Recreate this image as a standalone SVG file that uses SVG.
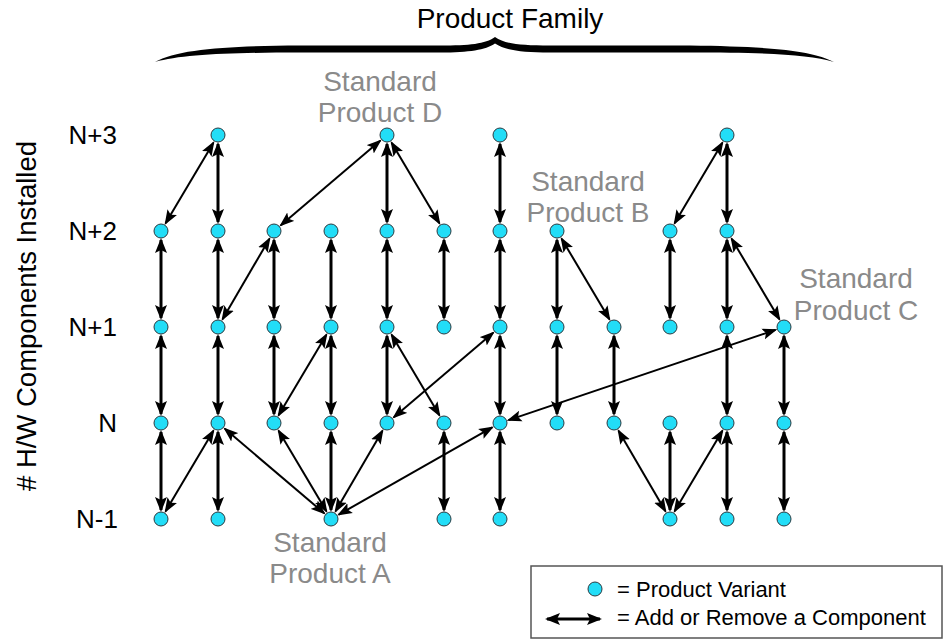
<svg xmlns="http://www.w3.org/2000/svg" width="948" height="644" viewBox="0 0 948 644">
<style>
text{font-family:"Liberation Sans",Arial,sans-serif}
.lvl{font-size:26px;fill:#000;text-anchor:end}
.std{font-size:28px;fill:#8a8a8a;text-anchor:middle}
.v{stroke:#000;stroke-width:3;fill:none;marker-start:url(#ah);marker-end:url(#ah)}
.d{stroke:#000;stroke-width:2;fill:none;marker-start:url(#ah2);marker-end:url(#ah2)}
.n{fill:#22DDF7;stroke:#2b3a40;stroke-width:1}
</style>
<defs>
<marker id="ah" markerUnits="userSpaceOnUse" viewBox="0 0 15 12" markerWidth="15" markerHeight="12" refX="13" refY="6" orient="auto-start-reverse">
<path d="M0,0 L15,6 L0,12 L3,6 Z" fill="#000"/>
</marker>
<marker id="ah2" markerUnits="userSpaceOnUse" viewBox="0 0 15 12" markerWidth="15" markerHeight="12" refX="13" refY="6" orient="auto-start-reverse">
<path d="M0,0.5 L15,6 L0,11.5 L3,6 Z" fill="#000"/>
</marker>
</defs>
<rect width="948" height="644" fill="#fff"/>

<g id="title">
<text x="510" y="28" font-size="28" text-anchor="middle">Product Family</text>
<path d="M155,62 C178,49 230,46 300,45.5 L440,45.5 C470,45.5 485,44 495,37 C505,44 520,45.5 550,45.5 L690,45.5 C765,46.5 812,50 834,62 C808,54.5 765,52.5 690,52.5 L550,52.5 C520,52.5 505,50 495,43.5 C485,50 470,52.5 440,52.5 L300,52.5 C230,52.5 182,54.5 155,62 Z" fill="#000"/>
</g>

<g id="axis">
<text transform="translate(36,316) rotate(-90)" font-size="27.5" text-anchor="middle"># H/W Components Installed</text>
<text class="lvl" x="117" y="144">N+3</text>
<text class="lvl" x="117" y="240">N+2</text>
<text class="lvl" x="117" y="336">N+1</text>
<text class="lvl" x="117" y="432">N</text>
<text class="lvl" x="118" y="528">N-1</text>
</g>

<g id="labels">
<g id="stdD"><text class="std" x="380" y="91">Standard</text><text class="std" x="380" y="122">Product D</text></g>
<g id="stdB"><text class="std" x="588" y="191">Standard</text><text class="std" x="588" y="222">Product B</text></g>
<g id="stdC"><text class="std" x="856" y="288">Standard</text><text class="std" x="856" y="320">Product C</text></g>
<g id="stdA"><text class="std" x="330" y="552">Standard</text><text class="std" x="330" y="583">Product A</text></g>
</g>

<g id="connectors">
<line class="v" x1="161" y1="240" x2="161" y2="318"/>
<line class="v" x1="161" y1="336" x2="161" y2="414"/>
<line class="v" x1="161" y1="432" x2="161" y2="510"/>
<line class="v" x1="218" y1="144" x2="218" y2="222"/>
<line class="v" x1="218" y1="240" x2="218" y2="318"/>
<line class="v" x1="218" y1="336" x2="218" y2="414"/>
<line class="v" x1="218" y1="432" x2="218" y2="510"/>
<line class="v" x1="274" y1="240" x2="274" y2="318"/>
<line class="v" x1="274" y1="336" x2="274" y2="414"/>
<line class="v" x1="331" y1="240" x2="331" y2="318"/>
<line class="v" x1="331" y1="336" x2="331" y2="414"/>
<line class="v" x1="331" y1="432" x2="331" y2="510"/>
<line class="v" x1="387" y1="144" x2="387" y2="222"/>
<line class="v" x1="387" y1="240" x2="387" y2="318"/>
<line class="v" x1="387" y1="336" x2="387" y2="414"/>
<line class="v" x1="444" y1="240" x2="444" y2="318"/>
<line class="v" x1="444" y1="432" x2="444" y2="510"/>
<line class="v" x1="500" y1="144" x2="500" y2="222"/>
<line class="v" x1="500" y1="240" x2="500" y2="318"/>
<line class="v" x1="500" y1="336" x2="500" y2="414"/>
<line class="v" x1="500" y1="432" x2="500" y2="510"/>
<line class="v" x1="557" y1="240" x2="557" y2="318"/>
<line class="v" x1="557" y1="336" x2="557" y2="414"/>
<line class="v" x1="614" y1="336" x2="614" y2="414"/>
<line class="v" x1="670" y1="240" x2="670" y2="318"/>
<line class="v" x1="670" y1="432" x2="670" y2="510"/>
<line class="v" x1="727" y1="144" x2="727" y2="222"/>
<line class="v" x1="727" y1="240" x2="727" y2="318"/>
<line class="v" x1="727" y1="336" x2="727" y2="414"/>
<line class="v" x1="727" y1="432" x2="727" y2="510"/>
<line class="v" x1="784" y1="336" x2="784" y2="414"/>
<line class="v" x1="784" y1="432" x2="784" y2="510"/>
<line class="d" x1="213.41" y1="142.74" x2="165.59" y2="223.26"/>
<line class="d" x1="380.14" y1="140.83" x2="280.86" y2="225.17"/>
<line class="d" x1="391.59" y1="142.74" x2="439.41" y2="223.26"/>
<line class="d" x1="269.47" y1="238.77" x2="222.53" y2="319.23"/>
<line class="d" x1="722.41" y1="142.74" x2="674.59" y2="223.26"/>
<line class="d" x1="561.59" y1="238.74" x2="609.41" y2="319.26"/>
<line class="d" x1="731.59" y1="238.74" x2="779.41" y2="319.26"/>
<line class="d" x1="326.41" y1="334.74" x2="278.59" y2="415.26"/>
<line class="d" x1="391.59" y1="334.74" x2="439.41" y2="415.26"/>
<line class="d" x1="493.14" y1="332.83" x2="393.86" y2="417.17"/>
<line class="d" x1="775.47" y1="329.88" x2="508.53" y2="420.12"/>
<line class="d" x1="213.41" y1="430.74" x2="165.59" y2="511.26"/>
<line class="d" x1="324.14" y1="513.17" x2="224.86" y2="428.83"/>
<line class="d" x1="326.41" y1="511.26" x2="278.59" y2="430.74"/>
<line class="d" x1="335.53" y1="511.23" x2="382.47" y2="430.77"/>
<line class="d" x1="338.83" y1="514.55" x2="492.17" y2="427.45"/>
<line class="d" x1="665.47" y1="511.23" x2="618.53" y2="430.77"/>
<line class="d" x1="674.59" y1="511.26" x2="722.41" y2="430.74"/>
</g>

<g id="nodes">
<g id="n3-1"><circle class="n" cx="218" cy="135" r="7"/></g>
<g id="n3-4"><circle class="n" cx="387" cy="135" r="7"/></g>
<g id="n3-6"><circle class="n" cx="500" cy="135" r="7"/></g>
<g id="n3-10"><circle class="n" cx="727" cy="135" r="7"/></g>
<g id="n2-0"><circle class="n" cx="161" cy="231" r="7"/></g>
<g id="n2-1"><circle class="n" cx="218" cy="231" r="7"/></g>
<g id="n2-2"><circle class="n" cx="274" cy="231" r="7"/></g>
<g id="n2-3"><circle class="n" cx="331" cy="231" r="7"/></g>
<g id="n2-4"><circle class="n" cx="387" cy="231" r="7"/></g>
<g id="n2-5"><circle class="n" cx="444" cy="231" r="7"/></g>
<g id="n2-6"><circle class="n" cx="500" cy="231" r="7"/></g>
<g id="n2-7"><circle class="n" cx="557" cy="231" r="7"/></g>
<g id="n2-9"><circle class="n" cx="670" cy="231" r="7"/></g>
<g id="n2-10"><circle class="n" cx="727" cy="231" r="7"/></g>
<g id="n1-0"><circle class="n" cx="161" cy="327" r="7"/></g>
<g id="n1-1"><circle class="n" cx="218" cy="327" r="7"/></g>
<g id="n1-2"><circle class="n" cx="274" cy="327" r="7"/></g>
<g id="n1-3"><circle class="n" cx="331" cy="327" r="7"/></g>
<g id="n1-4"><circle class="n" cx="387" cy="327" r="7"/></g>
<g id="n1-5"><circle class="n" cx="444" cy="327" r="7"/></g>
<g id="n1-6"><circle class="n" cx="500" cy="327" r="7"/></g>
<g id="n1-7"><circle class="n" cx="557" cy="327" r="7"/></g>
<g id="n1-8"><circle class="n" cx="614" cy="327" r="7"/></g>
<g id="n1-9"><circle class="n" cx="670" cy="327" r="7"/></g>
<g id="n1-10"><circle class="n" cx="727" cy="327" r="7"/></g>
<g id="n1-11"><circle class="n" cx="784" cy="327" r="7"/></g>
<g id="n0-0"><circle class="n" cx="161" cy="423" r="7"/></g>
<g id="n0-1"><circle class="n" cx="218" cy="423" r="7"/></g>
<g id="n0-2"><circle class="n" cx="274" cy="423" r="7"/></g>
<g id="n0-3"><circle class="n" cx="331" cy="423" r="7"/></g>
<g id="n0-4"><circle class="n" cx="387" cy="423" r="7"/></g>
<g id="n0-5"><circle class="n" cx="444" cy="423" r="7"/></g>
<g id="n0-6"><circle class="n" cx="500" cy="423" r="7"/></g>
<g id="n0-7"><circle class="n" cx="557" cy="423" r="7"/></g>
<g id="n0-8"><circle class="n" cx="614" cy="423" r="7"/></g>
<g id="n0-9"><circle class="n" cx="670" cy="423" r="7"/></g>
<g id="n0-10"><circle class="n" cx="727" cy="423" r="7"/></g>
<g id="n0-11"><circle class="n" cx="784" cy="423" r="7"/></g>
<g id="nm-0"><circle class="n" cx="161" cy="519" r="7"/></g>
<g id="nm-1"><circle class="n" cx="218" cy="519" r="7"/></g>
<g id="nm-3"><circle class="n" cx="331" cy="519" r="7"/></g>
<g id="nm-5"><circle class="n" cx="444" cy="519" r="7"/></g>
<g id="nm-6"><circle class="n" cx="500" cy="519" r="7"/></g>
<g id="nm-9"><circle class="n" cx="670" cy="519" r="7"/></g>
<g id="nm-10"><circle class="n" cx="727" cy="519" r="7"/></g>
<g id="nm-11"><circle class="n" cx="784" cy="519" r="7"/></g>
</g>

<g id="legend">
<rect x="531" y="566" width="411" height="72" fill="#fff" stroke="#555" stroke-width="1.5"/>
<circle class="n" cx="595" cy="589" r="7"/>
<text x="617" y="597" font-size="22">= Product Variant</text>
<line class="v" x1="547" y1="619" x2="600" y2="619"/>
<text x="617" y="625" font-size="22">= Add or Remove a Component</text>
</g>
</svg>
